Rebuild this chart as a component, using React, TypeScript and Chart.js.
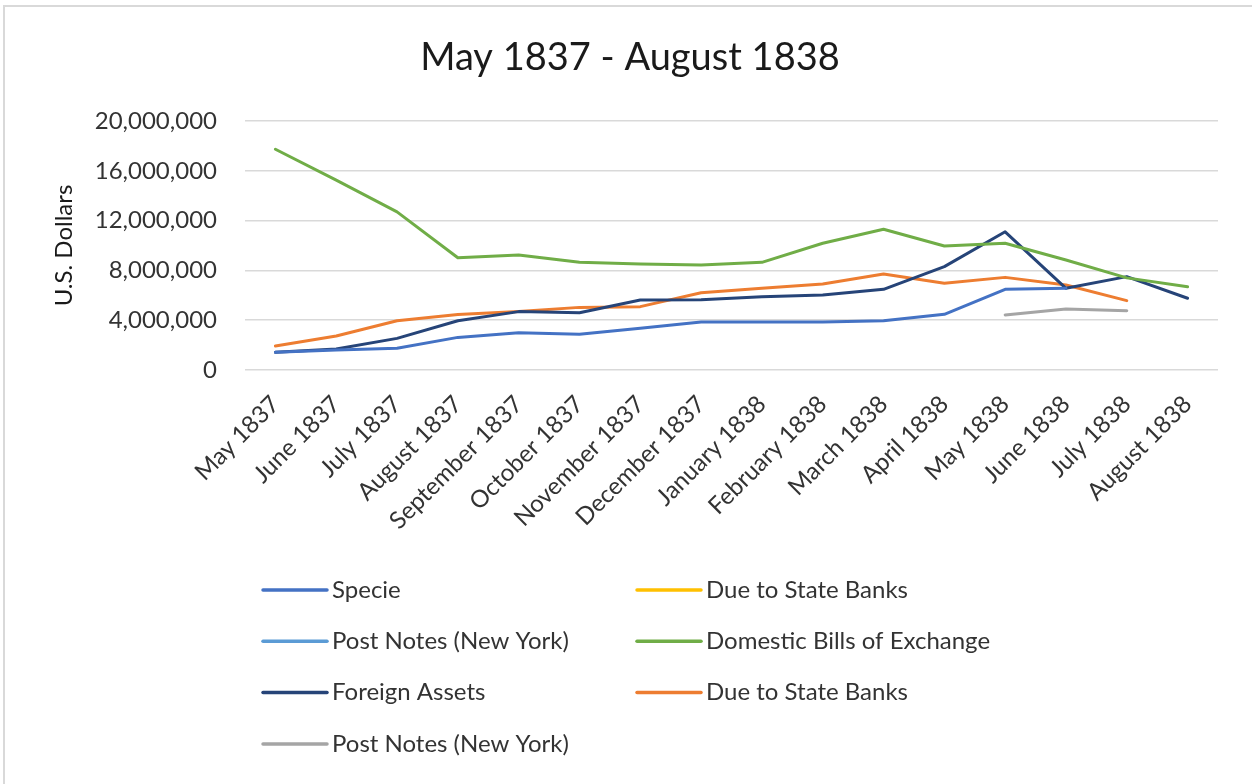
import React, { useEffect, useRef } from 'react';
import { Chart, registerables } from 'chart.js';

Chart.register(...registerables);

const months = [
  'May 1837', 'June 1837', 'July 1837', 'August 1837', 'September 1837',
  'October 1837', 'November 1837', 'December 1837', 'January 1838',
  'February 1838', 'March 1838', 'April 1838', 'May 1838', 'June 1838',
  'July 1838', 'August 1838',
];

const specie = [
  1420000, 1610000, 1740000, 2620000, 3000000, 2870000, 3350000, 3860000,
  3860000, 3860000, 3960000, 4470000, 6480000, 6560000, null, null,
];
const dueToStateBanksA: (number | null)[] = [];
const postNotesA: (number | null)[] = [];
const domesticBills = [
  17730000, 15250000, 12700000, 9020000, 9240000, 8650000, 8510000, 8430000,
  8650000, 10180000, 11300000, 9960000, 10180000, 8840000, 7400000, 6690000,
];
const foreignAssets = [
  1420000, 1690000, 2540000, 3960000, 4690000, 4600000, 5620000, 5650000,
  5890000, 6020000, 6480000, 8300000, 11100000, 6560000, 7500000, 5760000,
];
const dueToStateBanksB = [
  1930000, 2730000, 3960000, 4450000, 4690000, 5030000, 5090000, 6210000,
  6560000, 6900000, 7710000, 6960000, 7440000, 6830000, 5570000, null,
];
const postNotesB = [
  null, null, null, null, null, null, null, null,
  null, null, null, null, 4420000, 4900000, 4760000, null,
];

const yTicks = [0, 4000000, 8000000, 12000000, 16000000, 20000000];

const chartTitle = 'May 1837 - August 1838';
const seriesNames = [
  'Specie', 'Due to State Banks', 'Post Notes (New York)',
  'Domestic Bills of Exchange', 'Foreign Assets', 'Due to State Banks',
  'Post Notes (New York)',
];
const seriesColors = ['#4472C4', '#FFC000', '#5B9BD5', '#70AD47', '#264478', '#ED7D31', '#A5A5A5'];
const seriesData = [specie, dueToStateBanksA, postNotesA, domesticBills, foreignAssets, dueToStateBanksB, postNotesB];

const FONT = 'Lato, "Open Sans", sans-serif';

const frameTitleLegend = {
  id: 'frameTitleLegend',
  beforeDraw(chart: any) {
    const ctx = chart.ctx;
    ctx.save();
    ctx.strokeStyle = '#d9d9d9';
    ctx.lineWidth = 2;
    ctx.strokeRect(4, 6, 1400, 1000);
    ctx.restore();
  },
  afterDraw(chart: any) {
    const ctx = chart.ctx;
    ctx.save();
    ctx.font = `38px ${FONT}`;
    ctx.textBaseline = 'middle';
    ctx.textAlign = 'center';
    ctx.fillStyle = '#1a1a1a';
    ctx.fillText(chartTitle, 630, 58);

    ctx.font = `24px ${FONT}`;
    ctx.textAlign = 'left';
    chart.data.datasets.forEach((ds: any, i: number) => {
      const col = i % 2;
      const row = Math.floor(i / 2);
      const x0 = col === 0 ? 263 : 637;
      const y = 590 + row * 51.3;
      ctx.strokeStyle = ds.borderColor;
      ctx.lineWidth = 3.5;
      ctx.lineCap = 'round';
      ctx.beginPath();
      ctx.moveTo(x0, y);
      ctx.lineTo(x0 + 64, y);
      ctx.stroke();
      ctx.fillStyle = '#333333';
      ctx.fillText(ds.label, x0 + 69, y);
    });
    ctx.restore();
  },
};

export default function App() {
  const ref = useRef<HTMLCanvasElement>(null);
  useEffect(() => {
    if (!ref.current) return;
    const chart = new Chart(ref.current, {
      type: 'line',
      data: {
        labels: months,
        datasets: seriesNames.map((name, i) => ({
          label: name,
          data: seriesData[i],
          borderColor: seriesColors[i],
          backgroundColor: seriesColors[i],
          borderWidth: 3,
          pointRadius: 0,
          pointHoverRadius: 0,
          tension: 0,
          fill: false,
          borderCapStyle: 'round',
          borderJoinStyle: 'round',
        })),
      },
      options: {
        responsive: false,
        animation: false,
        layout: { padding: { top: 121, left: 0, right: 34, bottom: 250 } },
        plugins: {
          legend: { display: false },
          tooltip: { enabled: false },
          title: { display: false },
        },
        scales: {
          x: {
            offset: true,
            grid: { display: false },
            border: { display: false },
            ticks: {
              autoSkip: false,
              maxRotation: 45,
              minRotation: 45,
              color: '#333333',
              font: { family: FONT, size: 24 },
              padding: 12,
            },
            afterFit: (s: any) => { s.height = 164; },
          },
          y: {
            min: 0,
            max: 20000000,
            afterBuildTicks: (s: any) => { s.ticks = yTicks.map((v) => ({ value: v })); },
            grid: { color: '#d9d9d9', lineWidth: 1.5, drawTicks: false },
            border: { display: false },
            ticks: {
              color: '#333333',
              font: { family: FONT, size: 24 },
              padding: 28,
              callback: (v: any) => Number(v).toLocaleString('en-US'),
            },
            title: {
              display: true,
              text: 'U.S. Dollars',
              color: '#1a1a1a',
              font: { family: FONT, size: 24 },
              padding: { top: 50, bottom: 0 },
            },
            afterFit: (s: any) => { s.width = 245; },
          },
        },
      },
      plugins: [frameTitleLegend],
    });
    return () => chart.destroy();
  }, []);
  return (
    <div style={{ position: 'fixed', left: 0, top: 0, width: 1252, height: 784, background: '#fff', overflow: 'hidden' }}>
      <canvas ref={ref} width={1252} height={784} />
    </div>
  );
}
